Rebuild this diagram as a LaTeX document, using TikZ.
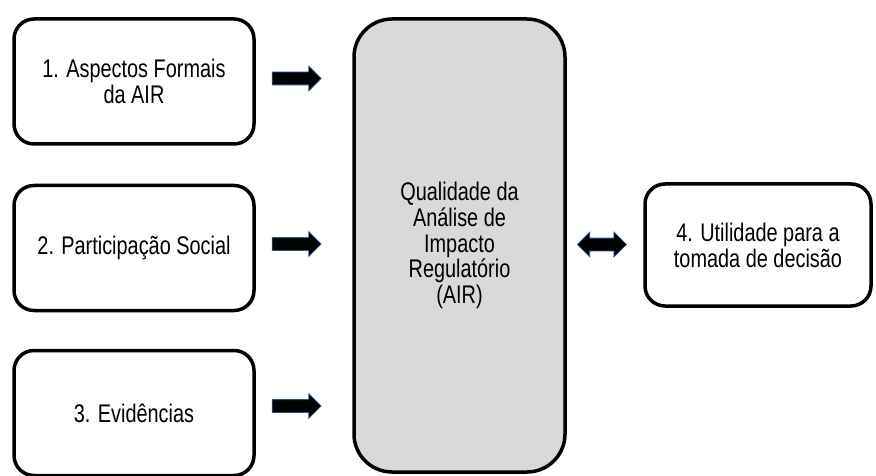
\documentclass[tikz,border=0pt]{standalone}
\usepackage{fontspec}
\setmainfont{Liberation Sans}[FakeStretch=0.78]
\usetikzlibrary{positioning,shapes.arrows}

\definecolor{cinza}{HTML}{D9D9D9}
\definecolor{azulseta}{HTML}{2F528F}

\tikzset{
    caixa/.style={draw, line width=3.5pt, rounded corners=20pt, align=center,
        minimum width=240pt, minimum height=125pt, inner sep=0pt,
        font=\fontsize{25.5}{25.8}\selectfont},
    seta/.style={single arrow, fill=black, draw=azulseta, line width=0.8pt,
        inner xsep=0pt, inner ysep=6pt, single arrow head extend=6pt,
        single arrow head indent=0pt, minimum height=49pt},
    setadupla/.style={double arrow, fill=black, draw=azulseta, line width=0.8pt,
        inner xsep=0pt, inner ysep=6pt, double arrow head extend=6pt,
        double arrow head indent=0pt, minimum height=49pt},
}

\begin{document}
\begin{tikzpicture}[x=1pt, y=-1pt]
    \useasboundingbox (0,0) rectangle (876,476);

    % caixas da esquerda
    \node[caixa] (b1) at (134,81.5) {1. Aspectos Formais\\da AIR};
    \node[caixa] (b2) at (134,248) {2. Participação Social};
    \node[caixa] (b3) at (134,413) {3. Evidências};

    % caixa central
    \node[caixa, fill=cinza, minimum width=211pt, minimum height=453pt,
        rounded corners=38pt] (q) at (459.5,245.5)
        {Qualidade da\\Análise de\\Impacto\\Regulatório\\(AIR)};

    % caixa da direita
    \node[caixa, minimum width=226pt, minimum height=122pt] (b4) at (758,245)
        {4. Utilidade para a\\tomada de decisão};

    % setas
    \node[seta, right=16pt of b1, yshift=3pt] (s1) {};
    \node[seta, right=16pt of b2, yshift=4pt] (s2) {};
    \node[seta, right=16pt of b3, yshift=7pt] (s3) {};
    \node[setadupla, right=10pt of q, yshift=1pt] (s4) {};
\end{tikzpicture}
\end{document}
